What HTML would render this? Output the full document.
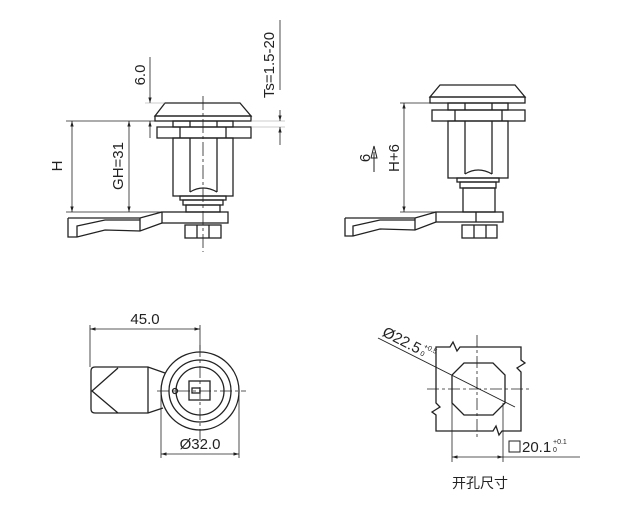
<!DOCTYPE html>
<html><head><meta charset="utf-8"><style>
html,body{margin:0;padding:0;background:#fff;}
svg{display:block}
text{font-family:"Liberation Sans","Noto Sans CJK SC",sans-serif;fill:#222}
</style></head><body>
<svg width="618" height="510" viewBox="0 0 618 510" xmlns="http://www.w3.org/2000/svg">
<defs>
<marker id="a" viewBox="0 0 10 10" refX="10" refY="5" markerWidth="7" markerHeight="7" orient="auto-start-reverse"><path d="M0,2 L10,5 L0,8" fill="#222"/></marker>
</defs>
<g fill="none" stroke="#222" stroke-width="1.3">
<!-- TOP LEFT -->
<polygon points="165,103 240,103 251,116 155,116"/>
<rect x="155" y="116" width="96" height="5"/>
<rect x="173" y="121" width="60" height="6"/>
<line x1="190" y1="121" x2="190" y2="127"/><line x1="217" y1="121" x2="217" y2="127"/>
<rect x="157" y="127" width="94" height="11"/>
<line x1="180" y1="127" x2="180" y2="138"/><line x1="226" y1="127" x2="226" y2="138"/>
<rect x="173" y="138" width="60" height="58"/>
<line x1="190" y1="138" x2="190" y2="192"/><line x1="217" y1="138" x2="217" y2="192"/>
<path d="M190,192 Q203,184 217,192"/>
<rect x="180" y="196" width="46" height="4"/>
<rect x="183" y="200" width="40" height="5"/>
<rect x="186" y="205" width="34" height="7"/>
<rect x="162" y="212" width="66" height="11"/>
<path d="M68,218 L140,218 L162,212 M68,218 L68,237 L77,237 L105,230 L140,231 L162,223 M77,237 L77,226 L105,220 L140,220 M140,218 L140,231"/>
<rect x="185" y="225" width="36" height="13"/>
<line x1="197" y1="225" x2="197" y2="238"/><line x1="209" y1="225" x2="209" y2="238"/>
<line x1="203" y1="96" x2="203" y2="252" stroke-dasharray="14,3,3,3" stroke-width="0.8"/>
<!-- dims TL -->
<line x1="66" y1="121" x2="155" y2="121" stroke-width="0.8"/>
<line x1="66" y1="212" x2="162" y2="212" stroke-width="0.8"/>
<line x1="72" y1="121" x2="72" y2="212" stroke-width="0.8" marker-start="url(#a)" marker-end="url(#a)"/>
<line x1="129" y1="121" x2="129" y2="212" stroke-width="0.8" marker-start="url(#a)" marker-end="url(#a)"/>
<line x1="150" y1="57" x2="150" y2="103" stroke-width="0.8" marker-end="url(#a)"/>
<line x1="150" y1="121" x2="150" y2="138" stroke-width="0.8" marker-start="url(#a)"/>
<line x1="145" y1="103" x2="165" y2="103" stroke-width="0.5" stroke="#999"/>
<line x1="251" y1="121" x2="285" y2="121" stroke-width="0.5" stroke="#999"/>
<line x1="251" y1="127" x2="285" y2="127" stroke-width="0.5" stroke="#999"/>
<line x1="280" y1="110" x2="280" y2="121" stroke-width="0.8" marker-end="url(#a)"/>
<line x1="280" y1="127" x2="280" y2="145" stroke-width="0.8" marker-start="url(#a)"/>
<line x1="280" y1="20" x2="280" y2="90" stroke-width="0.8"/>
<!-- TOP RIGHT -->
<polygon points="440,85 515,85 525,97 430,97"/>
<rect x="430" y="97" width="95" height="6"/>
<rect x="448" y="103" width="60" height="7"/>
<line x1="465" y1="103" x2="465" y2="110"/><line x1="492" y1="103" x2="492" y2="110"/>
<rect x="432" y="110" width="93" height="11"/>
<line x1="455" y1="110" x2="455" y2="121"/><line x1="502" y1="110" x2="502" y2="121"/>
<rect x="448" y="121" width="60" height="57"/>
<line x1="465" y1="121" x2="465" y2="174"/><line x1="492" y1="121" x2="492" y2="174"/>
<path d="M465,174 Q478,166 492,174"/>
<rect x="457" y="178" width="42" height="4"/>
<rect x="460" y="182" width="36" height="6"/>
<rect x="463" y="188" width="32" height="24"/>
<rect x="436" y="212" width="67" height="10"/>
<line x1="476" y1="212" x2="476" y2="222"/>
<path d="M345,218 L415,218 L436,212 M345,218 L345,236 L353,236 L380,229 L415,230 L436,222 M353,236 L353,226 L380,220 L415,220 M415,218 L415,230"/>
<rect x="462" y="225" width="35" height="13"/>
<line x1="474" y1="225" x2="474" y2="238"/><line x1="486" y1="225" x2="486" y2="238"/>
<line x1="400" y1="103" x2="430" y2="103" stroke-width="0.8"/>
<line x1="400" y1="212" x2="436" y2="212" stroke-width="0.8"/>
<line x1="404" y1="103" x2="404" y2="212" stroke-width="0.8" marker-start="url(#a)" marker-end="url(#a)"/>
<path d="M374,172 L374,152 M371,158 L374,146 L377,158 Z" stroke-width="1"/>
<!-- BOTTOM LEFT -->
<circle cx="200" cy="391" r="39"/>
<circle cx="200" cy="391" r="31"/>
<circle cx="200" cy="391" r="24"/>
<rect x="189" y="381" width="21" height="19"/>
<rect x="192" y="388" width="8" height="5"/>
<circle cx="175" cy="391" r="2.5"/>
<path d="M95,367 L148,367 L165,373 M95,413 L148,413 L163,408 M95,367 Q91,367 91,371 L91,409 Q91,413 95,413 M118,368 L92,391 L118,413 M148,367 L148,413"/>
<line x1="157" y1="391" x2="246" y2="391" stroke-width="0.8" stroke-dasharray="12,3,3,3"/>
<line x1="200" y1="345" x2="200" y2="440" stroke-width="0.8" stroke-dasharray="12,3,3,3"/>
<line x1="90" y1="325" x2="90" y2="367" stroke-width="0.8"/>
<line x1="200" y1="325" x2="200" y2="350" stroke-width="0.8"/>
<line x1="90" y1="329" x2="200" y2="329" stroke-width="0.8" marker-start="url(#a)" marker-end="url(#a)"/>
<line x1="161" y1="395" x2="161" y2="458" stroke-width="0.8"/>
<line x1="239" y1="395" x2="239" y2="458" stroke-width="0.8"/>
<line x1="161" y1="454" x2="239" y2="454" stroke-width="0.8" marker-start="url(#a)" marker-end="url(#a)"/>
<!-- BOTTOM RIGHT -->
<path d="M436,347 L450,347 L453,342 L457,351 L460,347 L521,347 L521,360 L525,363 L517,368 L521,372 L521,431 L502,431 L499,435 L496,426 L493,431 L436,431 L436,415 L432,412 L440,407 L436,403 Z"/>
<polygon points="464,363 493,363 505,375 505,403 493,415 464,415 452,403 452,375"/>
<line x1="477" y1="335" x2="477" y2="440" stroke-width="0.8" stroke-dasharray="12,3,3,3"/>
<line x1="427" y1="389" x2="530" y2="389" stroke-width="0.8" stroke-dasharray="12,3,3,3"/>
<line x1="378" y1="338" x2="515" y2="407" stroke-width="0.9"/>
<line x1="452" y1="403" x2="452" y2="462" stroke-width="0.8"/>
<line x1="503" y1="403" x2="503" y2="462" stroke-width="0.8"/>
<line x1="452" y1="457" x2="503" y2="457" stroke-width="0.8" marker-start="url(#a)" marker-end="url(#a)"/>
<line x1="503" y1="457" x2="580" y2="457" stroke-width="0.8"/>
<rect x="509" y="441" width="11" height="11" stroke-width="1"/>
</g>
<!-- text -->
<text font-size="15" transform="translate(62,166) rotate(-90)" text-anchor="middle">H</text>
<text font-size="15" transform="translate(123,166) rotate(-90)" text-anchor="middle">GH=31</text>
<text font-size="15" transform="translate(145,75) rotate(-90)" text-anchor="middle">6.0</text>
<text font-size="15" transform="translate(274,65) rotate(-90)" text-anchor="middle">Ts=1.5-20</text>
<text font-size="15" transform="translate(399,158) rotate(-90)" text-anchor="middle">H+6</text>
<text font-size="15" transform="translate(370,158) rotate(-90)" text-anchor="middle">6</text>
<text font-size="15" x="145" y="324" text-anchor="middle">45.0</text>
<text font-size="15" x="200" y="449" text-anchor="middle">Ø32.0</text>
<g transform="translate(380,338) rotate(27)">
<text font-size="15" x="0" y="-3">Ø22.5</text>
<text font-size="7" x="43" y="-11">+0.5</text>
<text font-size="7" x="43" y="-3">0</text>
</g>
<text font-size="15" x="522" y="452">20.1</text>
<text font-size="7" x="553" y="444">+0.1</text>
<text font-size="7" x="553" y="452">0</text>
<text font-size="14" x="480" y="488" text-anchor="middle">开孔尺寸</text>
</svg>
</body></html>
